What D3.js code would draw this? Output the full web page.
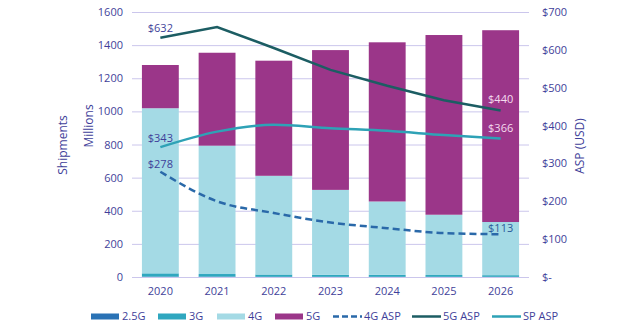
<!DOCTYPE html>
<html>
<head>
<meta charset="utf-8">
<script src="https://cdn.jsdelivr.net/npm/d3@7"></script>
<style>
  body { margin: 0; background: #fff; }
  text { font-family: "Open Sans", "Noto Sans", sans-serif; }
</style>
</head>
<body>
<svg id="chart" width="639" height="335"></svg>
<script>
    // Data
    var years = ['2020', '2021', '2022', '2023', '2024', '2025', '2026'];
    var g25 = [2, 2, 1, 1, 1, 1, 1];
    var g3 = [20, 16, 14, 12, 12, 11, 10];
    var g4 = [997, 775, 596, 513, 443, 364, 321];
    var g5 = [261, 561, 695, 844, 961, 1085, 1158];
    var asp4g = [278, 200, 169, 144, 129, 116, 113];
    var asp5g = [632, 660, 605, 547, 505, 467, 440];
    var aspSp = [343, 384, 402, 393, 386, 375, 366];
    var leftTicks = [0, 200, 400, 600, 800, 1000, 1200, 1400, 1600];
    var rightTicks = [0, 100, 200, 300, 400, 500, 600, 700];

    var textColor = '#3f3f9a';
    var gridColor = '#cbc6ec';
    var keys = ['2.5G', '3G', '4G', '5G'];
    var colors = { '2.5G': '#2a72b5', '3G': '#2fa7bf', '4G': '#a4dae5', '5G': '#9b3689' };

    var margin = { left: 132, right: 110, top: 12, bottom: 58 };
    var svg = d3.select('#chart');
    var W = 639, H = 335;
    var w = W - margin.left - margin.right;   // 397
    var h = H - margin.top - margin.bottom;

    var table = years.map(function(y, i) {
        return { year: y, '2.5G': g25[i], '3G': g3[i], '4G': g4[i], '5G': g5[i] };
    });

    var xScale = d3.scaleBand()
        .domain(years)
        .range([0, w])
        .paddingInner(0.35)
        .paddingOuter(0.175);

    var yScale = d3.scaleLinear().domain([0, 1600]).range([h, 0]);
    var y2Scale = d3.scaleLinear().domain([0, 700]).range([h, 0]);

    var g = svg.append('g')
        .attr('transform', 'translate(' + margin.left + ',' + margin.top + ')');

    // gridlines
    g.append('g').selectAll('line')
        .data(leftTicks)
        .enter().append('line')
        .attr('x1', 0).attr('x2', w)
        .attr('y1', function(d) { return yScale(d) + 0.5; })
        .attr('y2', function(d) { return yScale(d) + 0.5; })
        .attr('stroke', gridColor)
        .attr('stroke-width', 1);

    // stacked bars
    var stack = d3.stack().keys(keys)(table);
    g.append('g').selectAll('g')
        .data(stack)
        .enter().append('g')
        .attr('fill', function(d) { return colors[d.key]; })
        .selectAll('rect')
        .data(function(d) { return d; })
        .enter().append('rect')
        .attr('x', function(d) { return xScale(d.data.year); })
        .attr('width', xScale.bandwidth())
        .attr('y', function(d) { return yScale(d[1]); })
        .attr('height', function(d) { return yScale(d[0]) - yScale(d[1]); });

    // ASP lines
    var series = [
        { name: '4G ASP', values: asp4g, color: '#2a69a9', dash: '7,4', curve: d3.curveMonotoneX },
        { name: '5G ASP', values: asp5g, color: '#1c5d63', dash: null, curve: d3.curveLinear },
        { name: 'SP ASP', values: aspSp, color: '#2ea2b6', dash: null, curve: d3.curveMonotoneX }
    ];

    g.append('g').selectAll('path')
        .data(series)
        .enter().append('path')
        .attr('d', function(s) {
            return d3.line()
                .x(function(d, i) { return xScale(years[i]) + xScale.bandwidth() / 2; })
                .y(function(d) { return y2Scale(d); })
                .curve(s.curve)(s.values);
        })
        .attr('fill', 'none')
        .attr('stroke', function(d) { return d.color; })
        .attr('stroke-width', 2.5)
        .attr('stroke-dasharray', function(d) { return d.dash; });

    // value labels at the ends
    var cx = function(i) { return xScale(years[i]) + xScale.bandwidth() / 2; };
    var labels = [
        { i: 0, v: asp5g[0], dy: -10, color: textColor },
        { i: 0, v: aspSp[0], dy: -9, color: textColor },
        { i: 0, v: asp4g[0], dy: -8, color: textColor },
        { i: 6, v: asp5g[6], dy: -11, color: '#f4dcef' },
        { i: 6, v: aspSp[6], dy: -10, color: '#f4dcef' },
        { i: 6, v: asp4g[6], dy: -6, color: '#2b5b9a' }
    ];
    g.append('g').selectAll('text')
        .data(labels)
        .enter().append('text')
        .attr('x', function(d) { return cx(d.i); })
        .attr('y', function(d) { return y2Scale(d.v) + d.dy; })
        .attr('dy', '0.35em')
        .attr('text-anchor', 'middle')
        .attr('font-size', '11px')
        .attr('fill', function(d) { return d.color; })
        .text(function(d) { return '$' + d.v; });

    // left axis
    var yAxis = d3.axisLeft(yScale).tickValues(leftTicks).tickSize(0).tickPadding(9)
        .tickFormat(d3.format('d'));
    var ya = g.append('g').call(yAxis);
    ya.select('.domain').remove();
    ya.selectAll('text').attr('fill', textColor).attr('font-size', '11px')
        .attr('font-family', '"Open Sans", sans-serif');

    // right axis
    var y2Axis = d3.axisRight(y2Scale).tickValues(rightTicks).tickSize(0).tickPadding(13)
        .tickFormat(function(d) { return d === 0 ? '$-' : '$' + d; });
    var y2a = g.append('g').attr('transform', 'translate(' + w + ',0)').call(y2Axis);
    y2a.select('.domain').remove();
    y2a.selectAll('text').attr('fill', textColor).attr('font-size', '11px')
        .attr('font-family', '"Open Sans", sans-serif');

    // x axis
    var xAxis = d3.axisBottom(xScale).tickSize(0).tickPadding(10);
    var xa = g.append('g').attr('transform', 'translate(0,' + h + ')').call(xAxis);
    xa.select('.domain').remove();
    xa.selectAll('text').attr('fill', textColor).attr('font-size', '11px')
        .attr('font-family', '"Open Sans", sans-serif');

    // axis titles
    svg.append('text')
        .attr('transform', 'translate(67,145) rotate(-90)')
        .attr('text-anchor', 'middle')
        .attr('font-size', '12px')
        .attr('fill', textColor)
        .text('Shipments');
    svg.append('text')
        .attr('transform', 'translate(93,126) rotate(-90)')
        .attr('text-anchor', 'middle')
        .attr('font-size', '12px')
        .attr('fill', textColor)
        .text('Millions');
    svg.append('text')
        .attr('transform', 'translate(584,146) rotate(-90)')
        .attr('text-anchor', 'middle')
        .attr('font-size', '12px')
        .attr('fill', textColor)
        .text('ASP (USD)');

    // legend
    var legendItems = [
        { name: '2.5G', x: 91, type: 'rect', color: colors['2.5G'] },
        { name: '3G', x: 158, type: 'rect', color: colors['3G'] },
        { name: '4G', x: 217, type: 'rect', color: colors['4G'] },
        { name: '5G', x: 275, type: 'rect', color: colors['5G'] },
        { name: '4G ASP', x: 333, type: 'line', color: '#2a69a9', dash: '6,3' },
        { name: '5G ASP', x: 412, type: 'line', color: '#1c5d63' },
        { name: 'SP ASP', x: 492, type: 'line', color: '#2ea2b6' }
    ];
    var ly = 316.5;
    var leg = svg.append('g').selectAll('g')
        .data(legendItems)
        .enter().append('g')
        .attr('transform', function(d) { return 'translate(' + d.x + ',' + ly + ')'; });
    leg.filter(function(d) { return d.type === 'rect'; })
        .append('rect')
        .attr('x', 0).attr('y', -3)
        .attr('width', 28).attr('height', 6)
        .attr('fill', function(d) { return d.color; });
    leg.filter(function(d) { return d.type === 'line'; })
        .append('line')
        .attr('x1', 0).attr('x2', 29)
        .attr('y1', 0).attr('y2', 0)
        .attr('stroke', function(d) { return d.color; })
        .attr('stroke-width', 2.5)
        .attr('stroke-dasharray', function(d) { return d.dash || null; });
    leg.append('text')
        .attr('x', 31)
        .attr('y', 0)
        .attr('dy', '0.35em')
        .attr('font-size', '11px')
        .attr('fill', textColor)
        .text(function(d) { return d.name; });
</script>
</body>
</html>
